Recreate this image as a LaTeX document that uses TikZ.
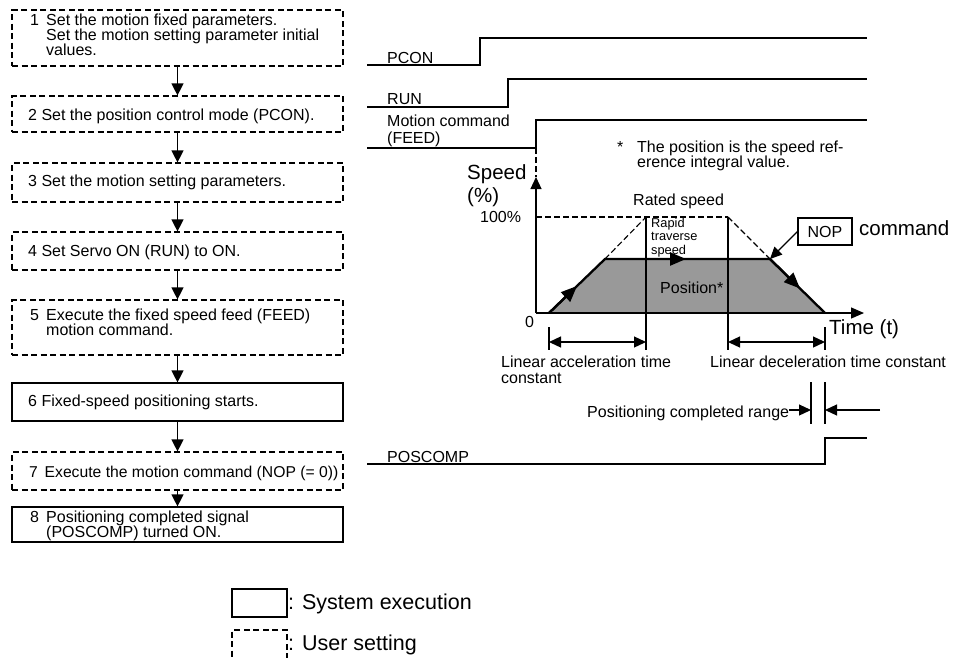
\documentclass[tikz,border=0pt]{standalone}
\usepackage{fontspec}
\setmainfont{Liberation Sans}
\usetikzlibrary{arrows.meta}
\definecolor{areagray}{RGB}{153,153,153}
\newcommand\myNorm{\fontsize{16}{15}\selectfont\lineskiplimit=-20pt\lineskip=0pt}
\newcommand\myLarge{\fontsize{20.5}{22}\selectfont}
\newcommand\myLegend{\fontsize{21.5}{23}\selectfont}
\newcommand\mySmall{\fontsize{12.8}{13.5}\selectfont\lineskiplimit=-20pt\lineskip=0pt}
\begin{document}
\begin{tikzpicture}[x=1pt,y=-1pt,
  sysbox/.style={draw, line width=1.2pt, minimum width=331pt, inner sep=0pt},
  usrbox/.style={sysbox, dash pattern=on 6pt off 3.5pt},
  txt/.style={inner sep=0pt, font=\myNorm},
  bigtxt/.style={inner sep=0pt, font=\myLarge},
  smalltxt/.style={inner sep=0pt, font=\mySmall},
  legtxt/.style={inner sep=0pt, font=\myLegend},
  flowarrow/.style={line width=1.3pt, -{Triangle[length=12pt,width=12pt]}},
  arr/.style={line width=1.2pt, -{Triangle[length=12pt,width=11pt]}},
  dblarr/.style={line width=1.3pt, {Triangle[length=12pt,width=11pt]}-{Triangle[length=12pt,width=11pt]}},
  sig/.style={line width=1.3pt},
  thinline/.style={line width=1.2pt},
  dashline/.style={line width=1.1pt, dash pattern=on 6pt off 3pt},
  edge/.style={line width=2.3pt},
  edgearr/.style={line width=2.3pt, -{Triangle[length=16pt,width=13pt]}}
]
\useasboundingbox (0,0) rectangle (962,657);

% ---------------- flowchart ----------------
\node[usrbox, minimum height=56pt] (b1) at (177.5,38) {};
\node[usrbox, minimum height=36pt] (b2) at (177.5,114) {};
\node[usrbox, minimum height=39pt] (b3) at (177.5,182.5) {};
\node[usrbox, minimum height=38pt] (b4) at (177.5,251) {};
\node[usrbox, minimum height=55pt] (b5) at (177.5,327.5) {};
\node[sysbox, minimum height=38pt] (b6) at (177.5,402) {};
\node[usrbox, minimum height=38pt] (b7) at (177.5,471) {};
\node[sysbox, minimum height=35pt] (b8) at (177.5,524.5) {};

\node[txt, anchor=north west, align=left] (t1) at (30,14)
  {\makebox[16pt][l]{1}Set the motion fixed parameters.\\\makebox[16pt]{}Set the motion setting parameter initial\\\makebox[16pt]{}values.};
\node[txt, anchor=base west] (t2) at (28,120.5) {2 Set the position control mode (PCON).};
\node[txt, anchor=base west] (t3) at (28,186.5) {3 Set the motion setting parameters.};
\node[txt, anchor=base west] (t4) at (28,256) {4 Set Servo ON (RUN) to ON.};
\node[txt, anchor=north west, align=left] (t5) at (30,308.5)
  {\makebox[16pt][l]{5}Execute the fixed speed feed (FEED)\\\makebox[16pt]{}motion command.};
\node[txt, anchor=base west] (t6) at (28,406) {6 Fixed-speed positioning starts.};
\node[txt, anchor=base west, font=\fontsize{15.7}{15}\selectfont] (t7) at (29,477.3) {\makebox[15.5pt][l]{7}Execute the motion command (NOP (= 0))};
\node[txt, anchor=north west, align=left] (t8) at (30,510.5)
  {\makebox[16pt][l]{8}Positioning completed signal\\\makebox[16pt]{}(POSCOMP) turned ON.};

\draw[flowarrow] (b1.south) -- (b2.north);
\draw[flowarrow] (b2.south) -- (b3.north);
\draw[flowarrow] (b3.south) -- (b4.north);
\draw[flowarrow] (b4.south) -- (b5.north);
\draw[flowarrow] (b5.south) -- (b6.north);
\draw[flowarrow] (b6.south) -- (b7.north);
\draw[flowarrow] (b7.south) -- (b8.north);

% ---------------- legend ----------------
\node[sysbox, minimum width=55pt, minimum height=28pt] (lsys) at (259.5,603) {};
\node[legtxt, anchor=base west] (lsyst) at (288,609) {: System execution};
\node[usrbox, minimum width=55pt, minimum height=50pt] (lusr) at (259.5,655) {};
\node[legtxt, anchor=base west] (lusrt) at (288,650) {: User setting};

% ---------------- timing signals ----------------
\coordinate (pc0) at (367,65); \coordinate (pc1) at (480,65);
\coordinate (pc2) at (480,38); \coordinate (pc3) at (867,38);
\draw[sig] (pc0) -- (pc1) -- (pc2) -- (pc3);
\node[txt, anchor=base west] (lpcon) at (387,63.3) {PCON};

\coordinate (rn0) at (367,107); \coordinate (rn1) at (508,107);
\coordinate (rn2) at (508,79); \coordinate (rn3) at (867,79);
\draw[sig] (rn0) -- (rn1) -- (rn2) -- (rn3);
\node[txt, anchor=base west] (lrun) at (387,104.5) {RUN};

\coordinate (fd0) at (367,148); \coordinate (fd1) at (536,148);
\coordinate (fd2) at (536,120); \coordinate (fd3) at (867,120);
\draw[sig] (fd0) -- (fd1) -- (fd2) -- (fd3);
\node[txt, anchor=base west] (lmot) at (387,126) {Motion command};
\node[txt, anchor=base west] (lfeed) at (387,143) {(FEED)};

\coordinate (ps0) at (367,464); \coordinate (ps1) at (825,464);
\coordinate (ps2) at (825,438); \coordinate (ps3) at (867,438);
\draw[sig] (ps0) -- (ps1) -- (ps2) -- (ps3);
\node[txt, anchor=base west] (lpos) at (387,462.5) {POSCOMP};

% note
\node[txt, anchor=base west] (star) at (617,152) {*};
\node[txt, anchor=base west] (note1) at (637,152) {The position is the speed ref-};
\node[txt, anchor=base west] (note2) at (637,167) {erence integral value.};

% ---------------- speed graph ----------------
\coordinate (O) at (536,313);
\coordinate (ytip) at (536,177);
\coordinate (xtip) at (864,313);
\coordinate (t0) at (549,313);
\coordinate (t1) at (605,259);
\coordinate (t2) at (770,259);
\coordinate (t3) at (825,313);
\coordinate (m1) at (577,286);
\coordinate (m2) at (686,259);
\coordinate (m3) at (800,288.5);
\coordinate (r0) at (536,217);
\coordinate (r1) at (646,217);
\coordinate (r2) at (728,217);

\fill[areagray] (t0) -- (t1) -- (t2) -- (t3) -- cycle;
\draw[thinline, -{Triangle[length=12pt,width=11pt]}] (O) -- (ytip);
\draw[dashline] (fd1) -- (ytip);
\draw[thinline, -{Triangle[length=13pt,width=11pt]}] (O) -- (xtip);

\draw[dashline] (r0) -- (r2);
\draw[dashline] (t1) -- (r1);
\draw[dashline] (r2) -- (t2);

\draw[edge] (t0) -- (t1) -- (t2) -- (t3);
\draw[edgearr] (t0) -- (m1);
\draw[edgearr] (t1) -- (m2);
\draw[edgearr] (t2) -- (m3);

\coordinate (v1a) at (646,217); \coordinate (v1b) at (646,350);
\coordinate (v2a) at (728,217); \coordinate (v2b) at (728,350);
\coordinate (k1a) at (549,327); \coordinate (k1b) at (549,350);
\coordinate (k2a) at (825,327); \coordinate (k2b) at (825,350);
\draw[thinline] (v1a) -- (v1b);
\draw[thinline] (v2a) -- (v2b);
\draw[thinline] (k1a) -- (k1b);
\draw[thinline] (k2a) -- (k2b);

\coordinate (d1a) at (549,342); \coordinate (d1b) at (646,342);
\coordinate (d2a) at (728,342); \coordinate (d2b) at (825,342);
\draw[dblarr] (d1a) -- (d1b);
\draw[dblarr] (d2a) -- (d2b);

\node[bigtxt, anchor=base west] (lspeed) at (467,179.3) {Speed};
\node[bigtxt, anchor=base west] (lpct) at (467,202) {(\%)};
\node[txt, anchor=base west] (lrated) at (633,205.5) {Rated speed};
\node[txt, anchor=base west] (l100) at (480,222) {100\%};
\node[smalltxt, anchor=north west, align=left] (lrapid) at (651,218) {Rapid\\traverse\\speed};
\node[txt, anchor=base west] (lposn) at (660,293.5) {Position*};
\node[txt, anchor=base west] (lzero) at (525,327) {0};
\node[bigtxt, anchor=base west] (ltime) at (829,334) {Time (t)};
\node[txt, anchor=base west] (lacc1) at (501,367.5) {Linear acceleration time};
\node[txt, anchor=base west] (lacc2) at (501,383.5) {constant};
\node[txt, anchor=base west] (ldec) at (710,367.5) {Linear deceleration time constant};

% NOP
\node[draw, thinline, minimum width=54pt, minimum height=27pt, inner sep=0pt, font=\myNorm] (nop) at (825,231.5) {NOP};
\node[bigtxt, anchor=base west] (lcmd) at (859,235) {command};
\draw[arr] (nop.west) -- (t2);

% positioning completed range
\coordinate (pa) at (811,382); \coordinate (pb) at (811,424);
\coordinate (pc) at (825,382); \coordinate (pd) at (825,424);
\draw[thinline] (pa) -- (pb);
\draw[thinline] (pc) -- (pd);
\node[txt, anchor=base west] (lpcr) at (587,417) {Positioning completed range};
\coordinate (pr1) at (811,410);
\coordinate (pr2) at (880,410);
\coordinate (pr3) at (825,410);
\draw[arr] (lpcr.east |- pr1) -- (pr1);
\draw[arr] (pr2) -- (pr3);
\end{tikzpicture}
\end{document}
